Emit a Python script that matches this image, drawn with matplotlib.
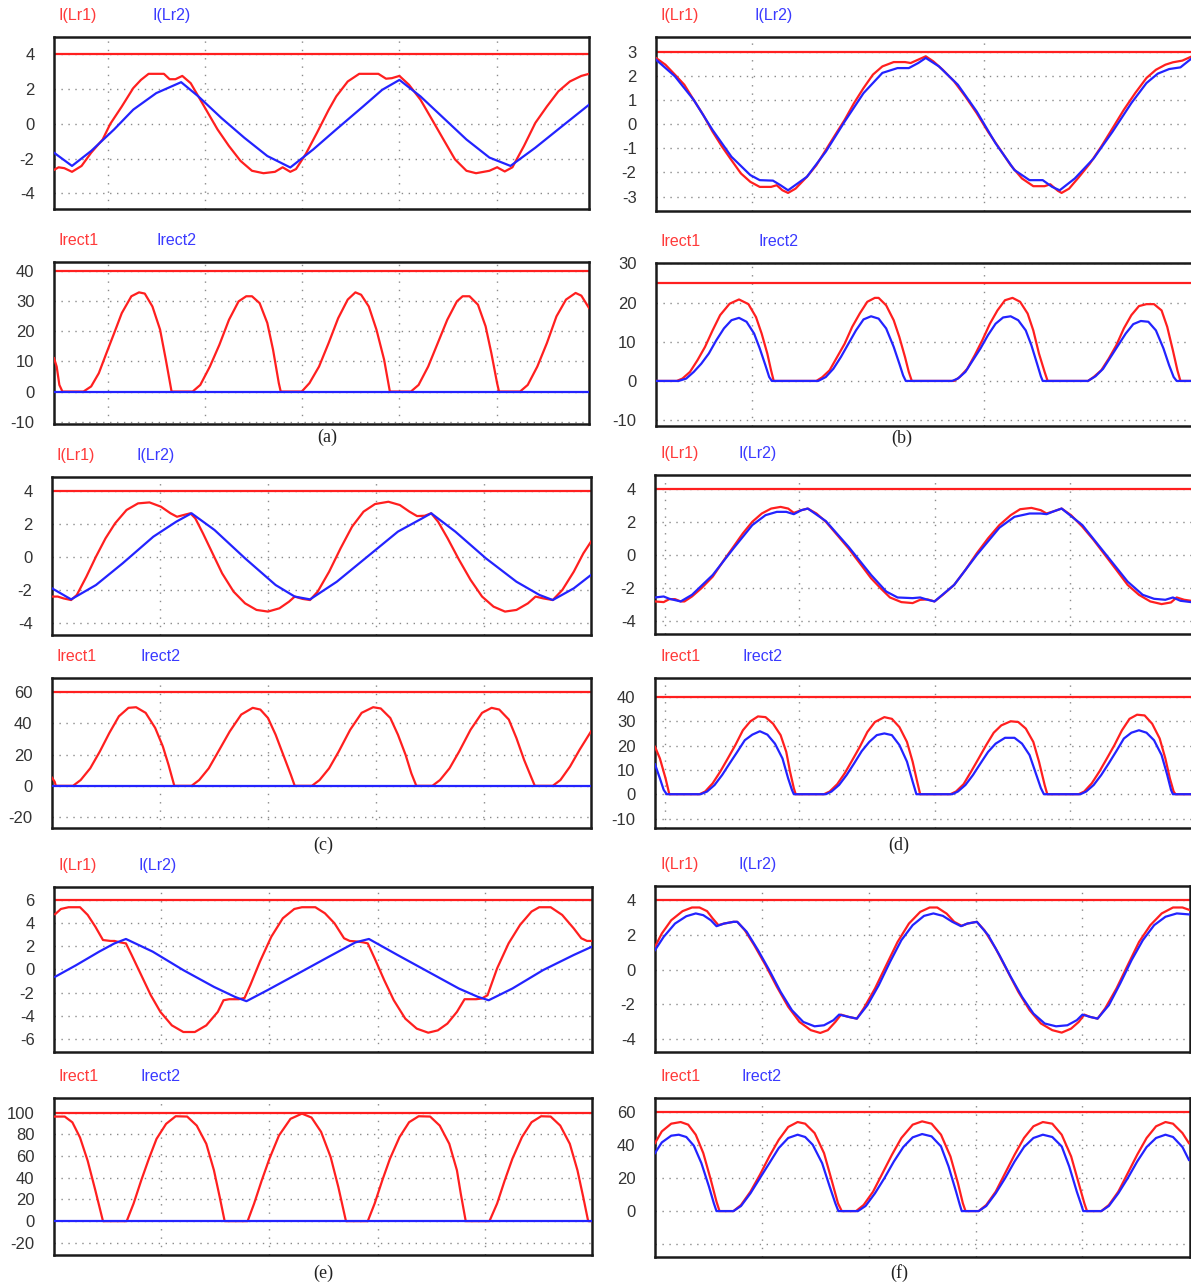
import matplotlib
matplotlib.use("Agg")
import matplotlib.pyplot as plt

plt.rcParams['font.family'] = ['Liberation Sans', 'DejaVu Sans']
plt.rcParams['axes.unicode_minus'] = False

RED = '#ff1f1f'
BLUE = '#2323ff'

# ---- data: (t, value); t is in sample units of each sub-figure ----
# (a)
a_lr1 = [(143, -2.65), (155, -2.5), (170, -2.55), (190, -2.76), (215, -2.42), (240, -1.66), (270, -0.9),
         (290, 0.0), (320, 1.0), (350, 2.06), (370, 2.53), (390, 2.88), (430, 2.88), (445, 2.57), (460, 2.57),
         (478, 2.76), (500, 2.34), (520, 1.58), (545, 0.63), (570, -0.32), (600, -1.28), (630, -2.13),
         (660, -2.7), (690, -2.84), (720, -2.76), (740, -2.5), (760, -2.76), (775, -2.6), (800, -1.75),
         (830, -0.5), (860, 0.8), (880, 1.58), (910, 2.44), (940, 2.88), (990, 2.88), (1010, 2.6),
         (1025, 2.63), (1045, 2.76), (1070, 2.25), (1100, 1.39), (1130, 0.25), (1160, -0.9), (1190, -2.04),
         (1220, -2.7), (1245, -2.84), (1280, -2.7), (1300, -2.5), (1320, -2.74), (1340, -2.5), (1370, -1.28),
         (1400, 0.06), (1430, 1.0), (1460, 1.87), (1490, 2.44), (1520, 2.76), (1540, 2.88)]
a_lr2 = [(143, -1.66), (190, -2.42), (240, -1.56), (300, -0.32), (350, 0.82), (410, 1.77), (475, 2.4),
         (520, 1.58), (580, 0.34), (640, -0.8), (700, -1.85), (760, -2.51), (820, -1.47), (880, -0.32),
         (950, 1.0), (1000, 1.96), (1045, 2.53), (1100, 1.58), (1160, 0.34), (1220, -0.9), (1280, -1.94),
         (1335, -2.42), (1400, -1.37), (1470, -0.13), (1540, 1.1)]
a_rect1 = [(143, 11.1), (150, 8.3), (157, 2.2), (165, 0), (220, 0), (240, 1.7), (260, 6.1), (280, 12.8),
           (300, 19.4), (320, 26.1), (345, 31.7), (365, 33.0), (380, 32.6), (400, 28.3), (420, 20.6),
           (435, 10.6), (450, 0), (505, 0), (525, 2.2), (550, 8.3), (575, 15.6), (600, 23.9), (625, 30.0),
           (645, 31.7), (660, 31.7), (680, 29.4), (700, 22.8), (715, 13.9), (730, 2.8), (735, 0), (790, 0),
           (810, 2.8), (835, 8.3), (860, 16.1), (885, 24.4), (910, 30.6), (930, 33.0), (945, 32.2),
           (965, 28.3), (985, 20.6), (1005, 10.6), (1020, 0), (1075, 0), (1095, 2.2), (1120, 8.3),
           (1145, 16.1), (1170, 23.9), (1195, 30.0), (1210, 31.7), (1228, 31.7), (1250, 28.9), (1270, 21.7),
           (1285, 12.8), (1300, 2.8), (1305, 0), (1360, 0), (1380, 2.2), (1405, 8.3), (1430, 16.1),
           (1455, 25.0), (1480, 30.6), (1505, 32.8), (1520, 31.9), (1540, 27.8)]
a_rect2 = [(143, 0), (1540, 0)]

# (b)
b_lr1 = [(150, 2.75), (175, 2.47), (200, 2.06), (225, 1.64), (250, 1.01), (275, 0.39), (300, -0.31),
         (325, -0.93), (350, -1.49), (375, -2.04), (400, -2.39), (425, -2.6), (455, -2.6), (470, -2.53),
         (485, -2.74), (500, -2.85), (520, -2.67), (550, -2.18), (575, -1.7), (600, -1.07), (625, -0.44),
         (650, 0.18), (675, 0.88), (700, 1.5), (725, 2.06), (750, 2.4), (780, 2.58), (810, 2.58),
         (825, 2.54), (845, 2.68), (865, 2.82), (885, 2.61), (910, 2.26), (940, 1.78), (970, 1.15),
         (1000, 0.46), (1030, -0.31), (1060, -1.0), (1090, -1.7), (1120, -2.25), (1150, -2.57),
         (1180, -2.57), (1195, -2.49), (1215, -2.76), (1225, -2.85), (1245, -2.67), (1270, -2.21),
         (1300, -1.63), (1330, -0.93), (1360, -0.17), (1390, 0.6), (1420, 1.29), (1450, 1.92),
         (1475, 2.26), (1500, 2.47), (1520, 2.57), (1545, 2.64), (1568, 2.8)]
b_lr2 = [(150, 2.68), (200, 1.99), (250, 1.01), (300, -0.24), (350, -1.35), (400, -2.11), (425, -2.32),
         (460, -2.34), (480, -2.53), (500, -2.74), (550, -2.18), (600, -1.14), (650, 0.11), (700, 1.29),
         (750, 2.13), (790, 2.33), (820, 2.33), (845, 2.54), (865, 2.75), (900, 2.4), (950, 1.64),
         (1000, 0.53), (1050, -0.79), (1100, -1.9), (1140, -2.32), (1175, -2.32), (1200, -2.6),
         (1220, -2.74), (1260, -2.25), (1310, -1.42), (1360, -0.31), (1410, 0.88), (1450, 1.71),
         (1480, 2.1), (1510, 2.29), (1540, 2.36), (1568, 2.71)]
b_rect1 = [(150, 0), (205, 0), (220, 0.6), (240, 2.3), (260, 5.3), (280, 8.7), (300, 12.9), (320, 16.8),
           (345, 19.7), (370, 20.8), (395, 19.6), (415, 16.3), (430, 12.1), (445, 7.0), (455, 2.7),
           (462, 0), (575, 0), (590, 0.9), (610, 2.7), (630, 6.1), (650, 9.5), (670, 13.8), (690, 17.2),
           (710, 20.2), (730, 21.2), (740, 21.2), (760, 19.3), (780, 15.5), (795, 11.2), (810, 6.1),
           (820, 2.3), (828, 0), (940, 0), (955, 1.0), (975, 3.1), (995, 6.6), (1015, 10.4), (1035, 14.6),
           (1055, 18.0), (1075, 20.6), (1095, 21.2), (1115, 20.2), (1135, 17.2), (1150, 12.9), (1165, 7.0),
           (1180, 2.3), (1188, 0), (1295, 0), (1310, 1.0), (1330, 2.7), (1350, 5.7), (1370, 9.1),
           (1390, 13.4), (1410, 16.8), (1430, 19.1), (1450, 19.6), (1470, 19.6), (1490, 18.0), (1505, 13.8),
           (1520, 7.8), (1532, 2.7), (1540, 0), (1568, 0)]
b_rect2 = [(150, 0), (210, 0), (230, 0.6), (250, 2.3), (270, 4.4), (290, 7.0), (310, 10.4), (330, 13.4),
           (350, 15.5), (370, 16.1), (390, 15.1), (410, 12.1), (425, 8.3), (440, 4.0), (450, 1.0), (457, 0),
           (580, 0), (600, 1.0), (620, 3.1), (640, 6.1), (660, 9.5), (680, 12.9), (700, 15.7), (720, 16.5),
           (740, 15.9), (760, 13.4), (780, 8.7), (795, 4.4), (805, 1.4), (812, 0), (935, 0), (950, 0.6),
           (970, 2.3), (990, 5.3), (1010, 8.3), (1030, 11.7), (1050, 14.6), (1070, 16.2), (1090, 16.5),
           (1110, 15.5), (1130, 12.9), (1145, 9.1), (1160, 4.4), (1170, 1.2), (1175, 0), (1295, 0),
           (1315, 1.2), (1335, 3.1), (1355, 6.1), (1375, 9.1), (1395, 12.1), (1415, 14.5), (1435, 15.3),
           (1455, 15.1), (1475, 12.9), (1495, 8.3), (1510, 4.0), (1522, 1.0), (1530, 0), (1568, 0)]

# (c)
c_lr1 = [(135, -2.42), (150, -2.42), (165, -2.53), (185, -2.63), (200, -2.32), (225, -1.21), (250, 0.0),
         (275, 1.11), (300, 2.02), (330, 2.83), (360, 3.23), (390, 3.29), (420, 3.03), (445, 2.63),
         (462, 2.42), (480, 2.53), (497, 2.63), (510, 2.32), (530, 1.41), (555, 0.2), (580, -1.01),
         (610, -2.12), (640, -2.83), (670, -3.23), (700, -3.33), (730, -3.13), (755, -2.73), (770, -2.42),
         (790, -2.56), (810, -2.63), (830, -2.12), (860, -0.91), (890, 0.51), (920, 1.82), (950, 2.73),
         (980, 3.19), (1015, 3.33), (1045, 3.13), (1070, 2.73), (1090, 2.46), (1110, 2.48), (1127, 2.63),
         (1145, 2.12), (1170, 1.11), (1200, -0.2), (1230, -1.41), (1260, -2.42), (1290, -3.03),
         (1320, -3.33), (1350, -3.23), (1380, -2.83), (1400, -2.42), (1420, -2.53), (1445, -2.63),
         (1470, -2.02), (1500, -0.91), (1525, 0.2), (1545, 0.91)]
c_lr2 = [(135, -1.92), (185, -2.59), (250, -1.72), (320, -0.4), (400, 1.21), (460, 2.12), (500, 2.63),
         (560, 1.62), (640, -0.1), (720, -1.72), (770, -2.42), (810, -2.59), (880, -1.52), (960, 0.0),
         (1040, 1.52), (1100, 2.28), (1127, 2.63), (1190, 1.52), (1270, -0.1), (1350, -1.52),
         (1410, -2.32), (1445, -2.63), (1500, -1.92), (1545, -1.11)]
c_rect1 = [(135, 5.2), (142, 2.6), (145, 0), (190, 0), (210, 3.7), (235, 11.2), (260, 21.9), (285, 33.8),
           (310, 44.5), (335, 49.9), (355, 50.3), (380, 46.7), (405, 37.0), (425, 25.2), (440, 13.3),
           (455, 0), (500, 0), (520, 3.7), (545, 11.2), (570, 21.9), (600, 34.8), (630, 45.6), (660, 49.9),
           (680, 48.8), (700, 43.4), (720, 32.7), (740, 19.8), (760, 6.9), (770, 0), (815, 0), (835, 3.7),
           (860, 11.2), (885, 21.9), (915, 35.9), (945, 46.7), (975, 50.3), (995, 49.5), (1020, 43.4),
           (1040, 32.7), (1060, 19.8), (1075, 8.0), (1088, 0), (1130, 0), (1150, 3.7), (1175, 11.2),
           (1200, 21.9), (1230, 35.9), (1260, 46.7), (1285, 49.9), (1305, 48.8), (1330, 42.4), (1350, 30.5),
           (1370, 16.6), (1390, 4.7), (1398, 0), (1445, 0), (1465, 3.7), (1490, 12.3), (1515, 23.0),
           (1545, 34.8)]
c_rect2 = [(135, 0), (1545, 0)]

# (d)
d_lr1 = [(147, -2.81), (170, -2.85), (185, -2.67), (200, -2.67), (215, -2.81), (225, -2.81), (245, -2.51),
         (270, -2.01), (300, -1.31), (330, -0.3), (355, 0.5), (380, 1.31), (405, 2.01), (430, 2.51),
         (455, 2.81), (480, 2.91), (500, 2.81), (515, 2.55), (535, 2.71), (552, 2.81), (575, 2.51),
         (600, 2.01), (630, 1.21), (660, 0.4), (690, -0.5), (720, -1.41), (745, -2.01), (770, -2.57),
         (800, -2.85), (830, -2.91), (850, -2.71), (870, -2.69), (888, -2.81), (910, -2.41), (940, -1.81),
         (970, -0.9), (1000, 0.1), (1030, 1.01), (1060, 1.81), (1090, 2.41), (1115, 2.77), (1145, 2.85),
         (1170, 2.71), (1185, 2.51), (1205, 2.65), (1225, 2.81), (1250, 2.41), (1280, 1.71), (1310, 0.9),
         (1340, 0.0), (1370, -0.9), (1400, -1.81), (1430, -2.41), (1460, -2.81), (1490, -2.97),
         (1515, -2.87), (1530, -2.57), (1550, -2.71), (1568, -2.77)]
d_lr2 = [(147, -2.57), (170, -2.51), (185, -2.65), (215, -2.81), (245, -2.41), (300, -1.21), (355, 0.4),
         (405, 1.81), (440, 2.41), (470, 2.61), (495, 2.61), (515, 2.47), (535, 2.71), (552, 2.81),
         (600, 2.05), (660, 0.5), (720, -1.21), (760, -2.21), (790, -2.57), (830, -2.61), (850, -2.57),
         (870, -2.71), (888, -2.81), (940, -1.81), (1000, 0.0), (1060, 1.65), (1100, 2.31), (1140, 2.51),
         (1170, 2.51), (1185, 2.47), (1205, 2.65), (1225, 2.81), (1280, 1.81), (1340, 0.1), (1400, -1.61),
         (1440, -2.41), (1470, -2.65), (1500, -2.71), (1520, -2.57), (1540, -2.77), (1568, -2.85)]
d_rect1 = [(147, 19.5), (160, 14.7), (175, 6.5), (185, 0), (265, 0), (280, 1.1), (300, 4.5), (320, 9.3),
           (340, 14.7), (360, 20.2), (380, 26.3), (400, 30.0), (420, 32.0), (440, 31.7), (460, 29.0),
           (480, 24.3), (495, 17.4), (505, 9.3), (515, 2.5), (520, 0), (595, 0), (610, 1.1), (630, 4.1),
           (650, 8.6), (670, 14.0), (690, 19.5), (710, 25.6), (730, 29.7), (755, 31.7), (775, 31.0),
           (795, 27.6), (815, 21.5), (830, 13.4), (842, 5.2), (850, 0), (930, 0), (945, 1.1), (965, 4.1),
           (985, 9.3), (1005, 14.7), (1025, 20.2), (1045, 25.3), (1065, 28.3), (1090, 30.0), (1110, 29.7),
           (1130, 27.0), (1150, 21.5), (1165, 13.4), (1180, 3.8), (1187, 0), (1270, 0), (1285, 1.1),
           (1305, 4.5), (1325, 9.3), (1345, 14.7), (1365, 20.2), (1385, 26.3), (1405, 31.0), (1425, 32.7),
           (1445, 32.4), (1465, 29.0), (1485, 22.9), (1500, 14.7), (1512, 6.5), (1522, 1.1), (1527, 0),
           (1568, 0)]
d_rect2 = [(147, 12.3), (160, 6.5), (170, 1.8), (178, 0), (268, 0), (285, 1.1), (305, 3.8), (325, 7.9),
           (345, 12.7), (365, 17.4), (385, 22.2), (405, 24.5), (425, 25.9), (445, 24.5), (465, 20.8),
           (485, 14.7), (500, 6.5), (510, 1.8), (515, 0), (600, 0), (615, 1.1), (635, 3.8), (655, 7.9),
           (675, 12.7), (695, 17.7), (715, 21.5), (735, 24.3), (755, 25.0), (775, 24.3), (795, 20.2),
           (815, 13.4), (830, 5.2), (840, 0), (935, 0), (950, 1.1), (970, 3.8), (990, 7.9), (1010, 12.7),
           (1030, 17.4), (1050, 20.8), (1075, 23.2), (1100, 23.2), (1120, 20.8), (1140, 16.1), (1155, 9.3),
           (1170, 2.5), (1178, 0), (1275, 0), (1290, 1.1), (1310, 3.8), (1330, 7.9), (1350, 12.7),
           (1370, 17.7), (1390, 22.9), (1410, 25.3), (1430, 26.3), (1450, 25.3), (1470, 22.2), (1490, 16.1),
           (1505, 7.9), (1515, 1.8), (1520, 0), (1568, 0)]

# (e)
e_lr1 = [(145, 4.75), (160, 5.2), (180, 5.35), (210, 5.35), (230, 4.69), (250, 3.68), (270, 2.53),
         (290, 2.45), (300, 2.45), (315, 2.33), (330, 2.24), (345, 1.24), (370, -0.49), (395, -2.22),
         (420, -3.65), (450, -4.81), (480, -5.38), (510, -5.38), (540, -4.81), (570, -3.65), (585, -2.65),
         (600, -2.56), (625, -2.56), (640, -2.45), (655, -1.35), (680, 0.66), (710, 2.82), (740, 4.4),
         (770, 5.2), (790, 5.35), (825, 5.35), (850, 4.83), (875, 3.97), (900, 2.68), (915, 2.45),
         (935, 2.4), (950, 2.33), (962, 2.24), (980, 0.95), (1005, -0.92), (1030, -2.65), (1060, -4.23),
         (1090, -5.09), (1120, -5.44), (1145, -5.24), (1170, -4.66), (1195, -3.65), (1215, -2.56),
         (1245, -2.56), (1260, -2.5), (1275, -2.22), (1300, 0.09), (1330, 2.24), (1360, 3.83),
         (1390, 4.98), (1410, 5.35), (1440, 5.35), (1470, 4.69), (1500, 3.54), (1520, 2.68), (1535, 2.45),
         (1548, 2.45)]
e_lr2 = [(145, -0.63), (200, 0.37), (260, 1.53), (300, 2.24), (330, 2.62), (400, 1.53), (480, -0.06),
         (560, -1.5), (615, -2.36), (645, -2.73), (700, -1.78), (780, -0.35), (860, 1.09), (930, 2.33),
         (965, 2.62), (1040, 1.24), (1120, -0.2), (1200, -1.64), (1250, -2.36), (1278, -2.65),
         (1340, -1.64), (1420, -0.06), (1500, 1.24), (1548, 1.96)]
e_rect1 = [(142, 96.3), (170, 96.3), (190, 91.0), (210, 77.0), (230, 55.6), (250, 28.4), (270, 0),
           (332, 0), (350, 16.2), (370, 37.6), (390, 57.5), (410, 75.8), (435, 89.6), (460, 96.6),
           (490, 96.3), (515, 88.0), (540, 71.2), (560, 46.8), (575, 22.3), (588, 0), (648, 0), (665, 16.2),
           (685, 37.6), (705, 57.5), (730, 78.9), (760, 94.2), (790, 99.0), (815, 95.4), (840, 82.2),
           (865, 59.0), (885, 31.5), (905, 0), (962, 0), (980, 16.2), (1000, 37.6), (1020, 57.5),
           (1045, 77.4), (1070, 91.1), (1095, 96.6), (1125, 96.3), (1150, 88.0), (1175, 71.2), (1195, 46.8),
           (1205, 25.4), (1218, 0), (1280, 0), (1300, 16.2), (1320, 37.6), (1340, 57.5), (1365, 77.4),
           (1390, 91.1), (1415, 96.6), (1440, 96.3), (1465, 88.0), (1490, 71.2), (1510, 46.8), (1525, 22.3),
           (1538, 0), (1548, 0)]
e_rect2 = [(142, 0), (1548, 0)]

# (f)
f_lr1 = [(147, 1.3), (165, 2.06), (190, 2.82), (220, 3.34), (245, 3.55), (265, 3.55), (285, 3.34),
         (300, 2.92), (315, 2.54), (330, 2.63), (355, 2.73), (365, 2.73), (385, 2.25), (410, 1.39),
         (440, 0.25), (470, -0.99), (500, -2.13), (530, -3.0), (560, -3.47), (585, -3.63), (605, -3.47),
         (625, -3.0), (640, -2.58), (660, -2.71), (682, -2.81), (700, -2.23), (730, -1.09), (760, 0.25),
         (790, 1.58), (820, 2.63), (850, 3.3), (875, 3.55), (895, 3.55), (920, 3.2), (940, 2.73),
         (960, 2.5), (975, 2.63), (1000, 2.73), (1020, 2.25), (1050, 1.2), (1080, -0.04), (1110, -1.28),
         (1140, -2.33), (1170, -3.09), (1200, -3.47), (1225, -3.61), (1250, -3.38), (1270, -3.0),
         (1285, -2.58), (1300, -2.71), (1320, -2.81), (1340, -2.23), (1370, -1.09), (1400, 0.25),
         (1430, 1.58), (1460, 2.54), (1490, 3.21), (1520, 3.55), (1545, 3.55), (1565, 3.4)]
f_lr2 = [(147, 1.11), (170, 1.87), (200, 2.63), (230, 3.05), (255, 3.21), (275, 3.11), (295, 2.82),
         (310, 2.48), (330, 2.63), (355, 2.73), (365, 2.73), (390, 2.16), (420, 1.11), (450, -0.04),
         (480, -1.28), (510, -2.33), (540, -3.0), (570, -3.25), (595, -3.19), (620, -2.9), (635, -2.58),
         (660, -2.71), (682, -2.81), (710, -2.04), (740, -0.9), (770, 0.44), (800, 1.68), (830, 2.54),
         (860, 3.07), (885, 3.21), (910, 3.07), (935, 2.73), (958, 2.48), (975, 2.63), (1000, 2.73),
         (1030, 1.97), (1060, 0.82), (1090, -0.42), (1120, -1.57), (1150, -2.52), (1180, -3.09),
         (1210, -3.25), (1240, -3.19), (1265, -2.9), (1280, -2.58), (1300, -2.71), (1320, -2.81),
         (1350, -2.04), (1380, -0.8), (1410, 0.53), (1440, 1.68), (1470, 2.54), (1500, 3.02),
         (1530, 3.21), (1565, 3.15)]
f_rect1 = [(147, 41.3), (165, 48.4), (190, 53.1), (215, 54.1), (235, 52.5), (255, 46.4), (275, 35.2),
           (295, 18.9), (310, 5.7), (318, 0), (355, 0), (375, 3.7), (400, 11.8), (425, 22.0), (450, 33.2),
           (475, 43.3), (500, 51.1), (525, 54.1), (545, 53.1), (570, 47.4), (595, 35.2), (615, 18.9),
           (632, 4.7), (642, 0), (680, 0), (700, 3.7), (725, 11.8), (750, 23.0), (775, 34.2), (800, 44.4),
           (830, 52.5), (855, 54.5), (880, 53.1), (905, 46.4), (930, 33.2), (950, 16.9), (963, 4.7),
           (970, 0), (1005, 0), (1025, 3.7), (1050, 11.8), (1075, 23.0), (1100, 34.2), (1125, 44.4),
           (1150, 51.5), (1175, 54.1), (1200, 53.1), (1225, 46.4), (1250, 33.2), (1270, 16.9), (1285, 4.7),
           (1292, 0), (1330, 0), (1350, 3.7), (1375, 11.8), (1400, 23.0), (1425, 34.2), (1450, 44.4),
           (1475, 51.5), (1500, 54.1), (1520, 53.1), (1545, 47.4), (1562, 41.3)]
f_rect2 = [(147, 35.2), (165, 41.7), (190, 45.8), (210, 46.4), (230, 45.0), (250, 39.7), (270, 29.1),
           (290, 14.9), (303, 4.7), (310, 0), (355, 0), (375, 3.1), (400, 10.8), (425, 20.0), (450, 29.1),
           (475, 38.3), (500, 44.4), (525, 46.4), (545, 45.0), (565, 40.3), (590, 29.1), (610, 14.9),
           (625, 4.7), (633, 0), (685, 0), (705, 3.1), (730, 10.8), (755, 20.0), (780, 30.1), (805, 38.9),
           (830, 44.8), (855, 46.8), (880, 45.4), (905, 39.3), (925, 27.1), (945, 11.8), (955, 3.7),
           (960, 0), (1005, 0), (1025, 3.1), (1050, 10.8), (1075, 20.0), (1100, 30.1), (1125, 38.9),
           (1150, 44.4), (1175, 46.4), (1200, 45.0), (1225, 39.3), (1245, 27.1), (1265, 11.8), (1277, 3.7),
           (1282, 0), (1330, 0), (1350, 3.1), (1375, 10.8), (1400, 20.0), (1425, 30.1), (1450, 38.9),
           (1475, 44.4), (1500, 46.4), (1520, 45.0), (1545, 38.9), (1562, 31.1)]

# y ticks (labelled) and extra dotted grid rows per panel
ticks_lr_a = [4, 2, 0, -2, -4]
ticks_rect_a = [40, 30, 20, 10, 0, -10]
ticks_lr_b = [3, 2, 1, 0, -1, -2, -3]
ticks_rect_b = [30, 20, 10, 0, -10]
ticks_lr_c = [4, 2, 0, -2, -4]
ticks_rect_c = [60, 40, 20, 0, -20]
ticks_lr_d = [4, 2, 0, -2, -4]
ticks_rect_d = [40, 30, 20, 10, 0, -10]
ticks_lr_e = [6, 4, 2, 0, -2, -4, -6]
ticks_rect_e = [100, 80, 60, 40, 20, 0, -20]
ticks_lr_f = [4, 2, 0, -2, -4]
ticks_rect_f = [60, 40, 20, 0]

# red marker line near top of each panel
top_lines = {'a': (4, 40), 'b': (3, 25), 'c': (4, 60), 'd': (4, 40), 'e': (6, 100), 'f': (4, 60)}

# vertical grid positions (same t units as the traces)
vgrid = {'a': [285, 538, 790, 1043, 1300], 'b': [405, 1020], 'c': [418, 700, 982, 1265],
         'd': [173, 530, 888, 1247], 'e': [422, 705, 988, 1268], 'f': [430, 713, 997, 1280]}

W, H = 1191, 1287
fig = plt.figure(figsize=(W / 100, H / 100), dpi=100)


def box(x0, y0, x1, y1):
    return [x0 / W, 1 - y1 / H, (x1 - x0) / W, (y1 - y0) / H]


def panel(rect, xlim, ylim, s1, s2, ticks, grid_rows, topv, vg, names, clip_right=False):
    ax = fig.add_axes(rect)
    ax.set_xlim(*xlim)
    ax.set_ylim(*ylim)
    for g in grid_rows:
        ax.axhline(g, color='#8a8a8a', lw=1.0, ls=(0, (1, 4)), zorder=1)
    for v in vg:
        ax.axvline(v, color='#8a8a8a', lw=1.0, ls=(0, (1, 5)), zorder=1)
    ax.axhline(topv, color=RED, lw=1.6, zorder=2)
    ax.plot([p[0] for p in s1], [p[1] for p in s1], color=RED, lw=1.6, zorder=3)
    ax.plot([p[0] for p in s2], [p[1] for p in s2], color=BLUE, lw=1.6, zorder=4)
    ax.set_xticks([])
    ax.set_yticks(ticks)
    ax.set_yticklabels([str(t) for t in ticks], fontsize=12, color='#333333')
    ax.tick_params(axis='y', length=0, pad=14)
    for sp in ax.spines.values():
        sp.set_linewidth(1.8)
        sp.set_color('#1a1a1a')
    if clip_right:
        ax.spines['right'].set_visible(False)
    # channel names above the box
    fig.text(rect[0] + 5 / W, rect[1] + rect[3] + 14 / H, names[0], color='#ff3a3a', fontsize=11.5,
             ha='left', va='bottom')
    fig.text(rect[0] + names[2] / W, rect[1] + rect[3] + 14 / H, names[1], color='#3a3aff', fontsize=11.5,
             ha='left', va='bottom')
    return ax


lr = ('I(Lr1)', 'I(Lr2)')
rc = ('Irect1', 'Irect2')

# (a)
panel(box(54, 37, 589, 209), (143, 1540), (-4.9, 5.0), a_lr1, a_lr2, ticks_lr_a, ticks_lr_a,
      top_lines['a'][0], vgrid['a'], lr + (98,))
panel(box(54, 262, 589, 424), (143, 1540), (-10.8, 43.1), a_rect1, a_rect2, ticks_rect_a, ticks_rect_a,
      top_lines['a'][1], vgrid['a'], rc + (102,))
# (b)
panel(box(656, 37, W, 211), (150, 1568), (-3.6, 3.62), b_lr1, b_lr2, ticks_lr_b, ticks_lr_b,
      top_lines['b'][0], vgrid['b'], lr + (99,), clip_right=True)
panel(box(656, 263, W, 426), (150, 1568), (-11.5, 30.1), b_rect1, b_rect2, ticks_rect_b, ticks_rect_b,
      top_lines['b'][1], vgrid['b'], rc + (102,), clip_right=True)
# (c)
panel(box(52, 477, 591, 635), (135, 1545), (-4.75, 4.83), c_lr1, c_lr2, ticks_lr_c, ticks_lr_c,
      top_lines['c'][0], vgrid['c'], lr + (84,))
panel(box(52, 678, 591, 828), (135, 1545), (-27, 69), c_rect1, c_rect2, ticks_rect_c, ticks_rect_c,
      top_lines['c'][1], vgrid['c'], rc + (88,))
# (d)
panel(box(655, 475, W, 634), (147, 1568), (-4.78, 4.84), d_lr1, d_lr2, ticks_lr_d, ticks_lr_d,
      top_lines['d'][0], vgrid['d'], lr + (84,), clip_right=True)
panel(box(655, 678, W, 828), (147, 1568), (-13.9, 47.8), d_rect1, d_rect2, ticks_rect_d, ticks_rect_d,
      top_lines['d'][1], vgrid['d'], rc + (87,), clip_right=True)
# (e)
panel(box(54, 887, 592, 1052), (142, 1548), (-7.1, 7.09), e_lr1, e_lr2, ticks_lr_e, ticks_lr_e,
      top_lines['e'][0], vgrid['e'], lr + (84,))
panel(box(54, 1098, 592, 1255), (142, 1548), (-31.2, 113.4), e_rect1, e_rect2, ticks_rect_e, ticks_rect_e,
      top_lines['e'][1], vgrid['e'], rc + (87,))
# (f)
panel(box(655, 886, 1190, 1052), (147, 1565), (-4.72, 4.78), f_lr1, f_lr2, ticks_lr_f, ticks_lr_f,
      top_lines['f'][0], vgrid['f'], lr + (84,))
panel(box(655, 1098, 1190, 1257), (147, 1565), (-27.9, 68.7), f_rect1, f_rect2, ticks_rect_f,
      ticks_rect_f + [-20], top_lines['f'][1], vgrid['f'], rc + (86,))

# sub-figure captions
for lab, x, y in [('(a)', 327, 437), ('(b)', 902, 438), ('(c)', 323, 845), ('(d)', 899, 845),
                  ('(e)', 323, 1273), ('(f)', 899, 1273)]:
    fig.text(x / W, 1 - y / H, lab, family=['Liberation Serif', 'DejaVu Serif'], fontsize=13,
             ha='center', va='center', color='#222222')

fig.savefig('out.png', dpi=100)
